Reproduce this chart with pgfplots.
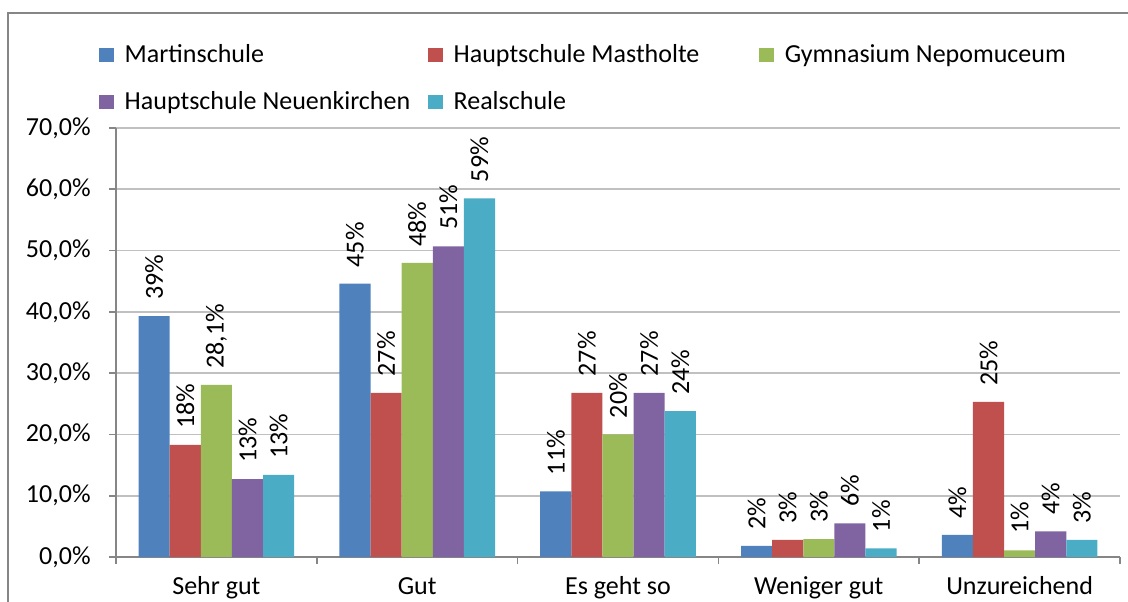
\documentclass[border=0pt]{standalone}
\usepackage{fontspec}
\setmainfont{Carlito}
\usepackage{pgfplots}
\pgfplotsset{compat=1.18}

\definecolor{cBlue}{HTML}{4F81BD}
\definecolor{cRed}{HTML}{C0504D}
\definecolor{cGreen}{HTML}{9BBB59}
\definecolor{cPurple}{HTML}{8064A2}
\definecolor{cCyan}{HTML}{4BACC6}
\definecolor{gridgray}{HTML}{C0C0C0}
\definecolor{axisgray}{HTML}{868686}

\begin{document}
\begin{tikzpicture}[x=0.5pt, y=0.5pt, font=\fontsize{13}{15.6}\selectfont]
  \useasboundingbox (0,0) rectangle (1128,601);
  % outer chart frame (cropped)
  \draw[axisgray, line width=0.9pt] (8,-20) -- (8,588) -- (1200,588);

  \begin{axis}[
    at={(58pt,22pt)}, anchor=south west,
    scale only axis,
    width=502pt, height=214.5pt,
    ybar=0pt, bar width=0.155,
    xmin=-0.5, xmax=4.5,
    ymin=0, ymax=70,
    ytick={0,10,...,70},
    xtick={0,1,2,3,4},
    xticklabels={Sehr gut, Gut, Es geht so, Weniger gut, Unzureichend},
    minor xtick={-0.5,0.5,1.5,2.5,3.5,4.5},
    minor tick length=3.5pt,
    minor x tick style={axisgray, line width=0.8pt},
    major x tick style={draw=none},
    axis x line*=bottom, axis y line*=left,
    axis line style={axisgray, line width=0.8pt},
    tick align=outside,
    major tick length=3.5pt,
    y tick style={axisgray, line width=0.8pt},
    ymajorgrids, grid style={gridgray, line width=0.9pt},
    /pgf/number format/assume math mode=true,
    yticklabel={\pgfmathprintnumber[fixed, fixed zerofill, precision=1, use comma]{\tick}\%},
    yticklabel style={anchor=east, inner sep=0pt, xshift=-9pt},
    xticklabel style={anchor=base, yshift=-15pt},
    nodes near coords,
    point meta=explicit symbolic,
    every node near coord/.append style={rotate=90, anchor=west, inner xsep=8pt, inner ysep=0pt, black},
    legend columns=3,
    legend cell align=left,
    legend style={draw=none, fill=none, inner sep=0pt,
      at={(-0.017,1.205)}, anchor=north west,
      row sep=9pt,
      /tikz/every odd column/.append style={column sep=3.5pt},
      /tikz/column 2/.style={column sep=7pt},
      /tikz/column 4/.style={column sep=28pt}},
    legend image code/.code={\fill[#1] (0pt,-3.6pt) rectangle (7.2pt,3.6pt);},
  ]
  \addplot[fill=cBlue, draw=none] coordinates {
    (0,39.3) [39\%] (1,44.6) [45\%] (2,10.7) [11\%] (3,1.8) [2\%] (4,3.6) [4\%]
  };
  \addplot[fill=cRed, draw=none] coordinates {
    (0,18.3) [18\%] (1,26.8) [27\%] (2,26.8) [27\%] (3,2.8) [3\%] (4,25.3) [25\%]
  };
  \addplot[fill=cGreen, draw=none] coordinates {
    (0,28.1) [{28,1\%}] (1,48.0) [48\%] (2,20.0) [20\%] (3,2.9) [3\%] (4,1.1) [1\%]
  };
  \addplot[fill=cPurple, draw=none] coordinates {
    (0,12.7) [13\%] (1,50.7) [51\%] (2,26.8) [27\%] (3,5.5) [6\%] (4,4.2) [4\%]
  };
  \addplot[fill=cCyan, draw=none] coordinates {
    (0,13.4) [13\%] (1,58.5) [59\%] (2,23.8) [24\%] (3,1.4) [1\%] (4,2.8) [3\%]
  };
  \legend{Martinschule, Hauptschule Mastholte, Gymnasium Nepomuceum, Hauptschule Neuenkirchen, Realschule}
  \end{axis}
\end{tikzpicture}
\end{document}
